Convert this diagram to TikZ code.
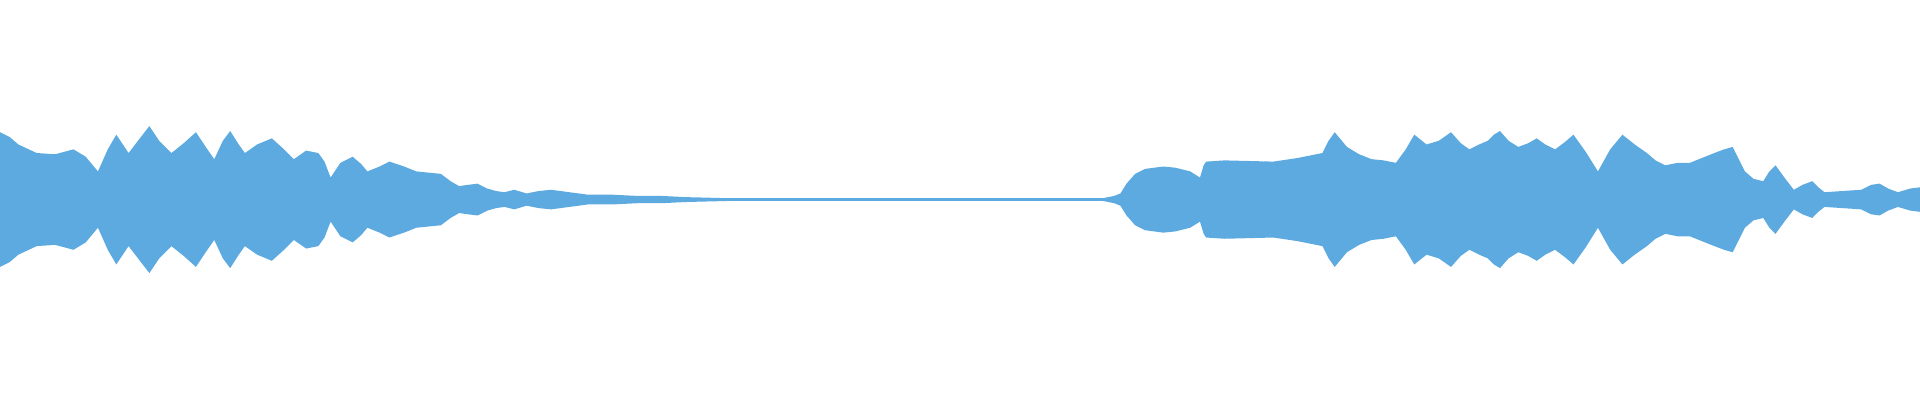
\documentclass[tikz,border=0pt]{standalone}
\definecolor{wave}{HTML}{5DAAE0}
\newcommand{\envlist}{0/108,8/112,15/118,30/125,45/126,60/122,70/128,80/140,88/122,95/110,105/125,115/112,122/103,130/115,140/125,150/117,160/108,168/120,175/130,182/115,188/107,195/118,200/125,210/118,222/113,232/122,240/130,250/123,260/125,265/132,270/145,278/133,288/128,295/134,300/140,310/136,318/132,330/136,340/140,350/141,360/142,368/148,375/152,382/151,390/150,398/154,405/156,412/157,420/155,430/158,440/156,450/155,465/157,480/159,500/159,520/160,540/160,560/161,600/162,700/162,890/162,900/162,905/161,910/160,915/158,920/150,927/142,935/138,950/136,960/137,972/140,980/145,983/135,985/132,1000/131,1040/132,1060/129,1080/125,1085/115,1090/108,1100/120,1110/126,1120/130,1130/131,1140/133,1148/122,1155/110,1165/118,1175/115,1185/108,1193/117,1200/122,1208/118,1215/115,1220/110,1225/107,1232/115,1240/120,1248/117,1255/113,1262/118,1270/122,1278/116,1285/110,1295/124,1305/140,1315/122,1325/110,1335/118,1345/125,1352/131,1360/135,1370/133,1380/133,1390/129,1400/125,1408/122,1415/120,1420/130,1425/140,1432/146,1440/148,1445/140,1450/135,1458/146,1465/155,1472/151,1480/148,1485/153,1490/157,1505/156,1520/155,1528/151,1535/150,1542/154,1550/157,1560/154,1568/153}
\begin{document}
\begin{tikzpicture}[x=0.01cm,y=-0.01cm]
\useasboundingbox (0,0) rectangle (1568,326.7);
\fill[wave] (0,163) \foreach \a/\b in \envlist {-- (\a,\b)} -- (1568,163) -- cycle;
\fill[wave] (0,163) \foreach \a/\b in \envlist {-- (\a,326-\b)} -- (1568,163) -- cycle;
\draw[wave,line width=0.6pt] (0,163) -- (1568,163);
\end{tikzpicture}
\end{document}
